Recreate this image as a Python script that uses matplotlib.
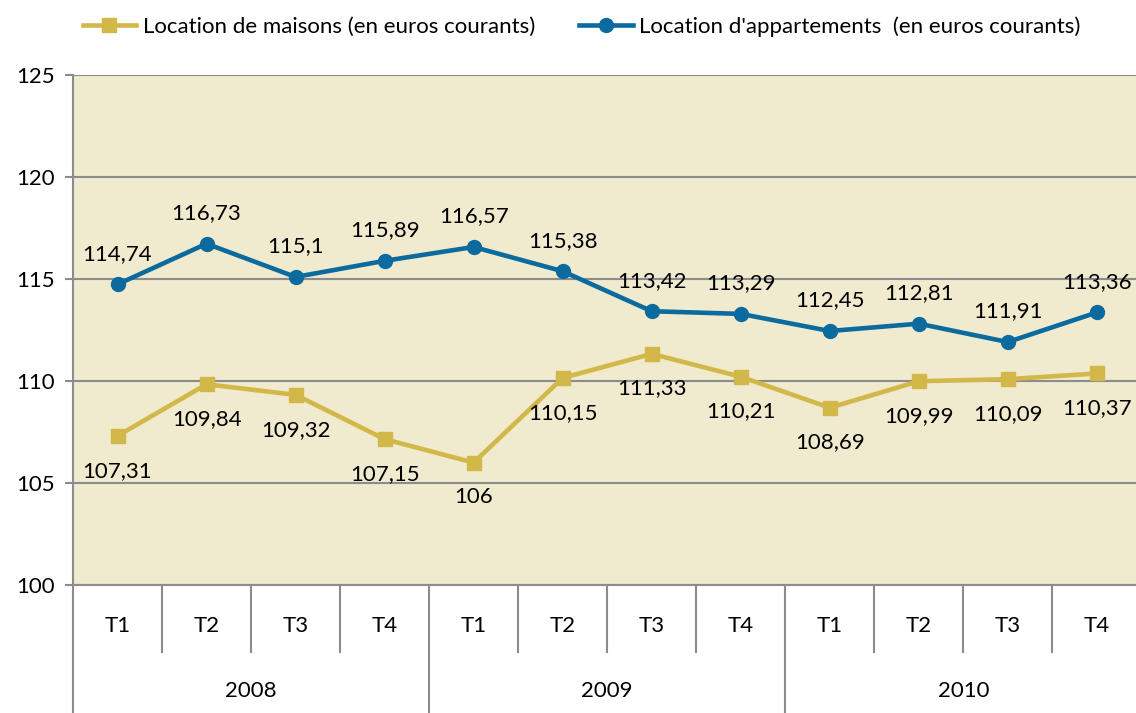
import numpy as np
import matplotlib.pyplot as plt
import matplotlib.transforms as mtransforms

# data
quarters = ['T1', 'T2', 'T3', 'T4'] * 3
years = ['2008', '2009', '2010']
maisons = [107.31, 109.84, 109.32, 107.15, 106, 110.15, 111.33, 110.21, 108.69, 109.99, 110.09, 110.37]
apparts = [114.74, 116.73, 115.1, 115.89, 116.57, 115.38, 113.42, 113.29, 112.45, 112.81, 111.91, 113.36]
yticks = [100, 105, 110, 115, 120, 125]

col_m = '#D2B848'
col_a = '#0B6A9E'
grid_col = '#8C8C8C'
fs = 16

plt.rcParams['font.family'] = ['Lato', 'DejaVu Sans']
plt.rcParams['font.size'] = fs

fig = plt.figure(figsize=(11.36, 7.13), dpi=100)
ax = fig.add_axes([73/1136, 1-585/713, 1-73/1136, (585-75)/713])
ax.set_facecolor('#F0EACE')

x = np.arange(len(quarters))
ax.plot(x, maisons, color=col_m, lw=3.3, marker='s', ms=10, label='Location de maisons (en euros courants)', zorder=3)
ax.plot(x, apparts, color=col_a, lw=3.3, marker='o', ms=10, label="Location d'appartements  (en euros courants)", zorder=3)

def fmt(v):
    return ('%g' % v).replace('.', ',')

for xi, v in zip(x, maisons):
    ax.annotate(fmt(v), (xi, v), xytext=(0, -25), textcoords='offset points', ha='center', va='center', fontsize=fs)
for xi, v in zip(x, apparts):
    ax.annotate(fmt(v), (xi, v), xytext=(0, 22), textcoords='offset points', ha='center', va='center', fontsize=fs)

ax.set_xlim(-0.5, 11.44)
ax.set_ylim(100, 125)
ax.set_yticks(yticks)
ax.yaxis.grid(True, color=grid_col, lw=1.5)
ax.set_axisbelow(True)
ax.tick_params(axis='y', length=5.8, width=1.5, color=grid_col, pad=7, labelsize=fs)
ax.set_xticks([])
for s in ['top', 'right']:
    ax.spines[s].set_visible(False)
for s in ['left', 'bottom']:
    ax.spines[s].set_color(grid_col)
    ax.spines[s].set_linewidth(1.5)

# hierarchical category axis
trans = mtransforms.blended_transform_factory(ax.transData, fig.transFigure)
y_q = 1 - 626/713
y_y = 1 - 691/713
y_qsep = 1 - 652/713
y_top = 1 - 585/713
for xi, q in zip(x, quarters):
    fig.text(xi, y_q, q, transform=trans, ha='center', va='center', fontsize=fs)
for i in range(len(quarters) + 1):
    bottom = 0 if i % 4 == 0 else y_qsep
    fig.add_artist(plt.Line2D([i - 0.5, i - 0.5], [bottom, y_top], transform=trans, color=grid_col, lw=1.5))
for j, yr in enumerate(years):
    fig.text(j * 4 + 1.5, y_y, yr, transform=trans, ha='center', va='center', fontsize=fs)

fig.legend(loc='upper center', bbox_to_anchor=(0.512, 1.005), ncol=2, frameon=False, fontsize=fs,
           handlelength=2.4, columnspacing=2.0, handletextpad=0.3)

fig.savefig('out.png', dpi=100)
